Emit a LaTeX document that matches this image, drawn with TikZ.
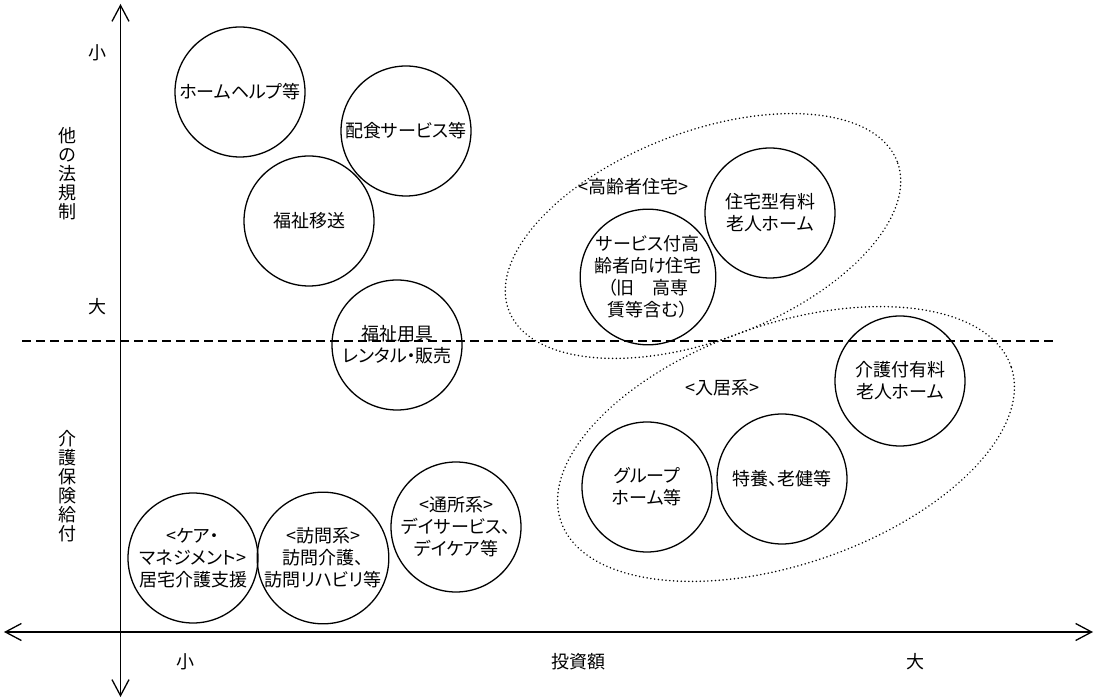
\documentclass[tikz,border=0pt]{standalone}
\usepackage{fontspec}
\setmainfont{Noto Sans CJK JP}[RawFeature=+palt]
\usetikzlibrary{arrows.meta,shapes.geometric}
\tikzset{
  bubble/.style={circle,draw,line width=1.3pt,minimum size=130pt,inner sep=0pt,align=center,
    font=\fontsize{18pt}{22pt}\selectfont},
  lbl/.style={inner sep=0pt,align=center,font=\fontsize{18pt}{22pt}\selectfont},
  vlbl/.style={inner sep=0pt,align=center,font=\fontsize{18pt}{19pt}\selectfont},
  axisline/.style={line width=1.3pt,
    arrows={Straight Barb[length=16pt,width=17pt]-Straight Barb[length=16pt,width=17pt]}},
  divline/.style={line width=1.3pt,dash pattern=on 9pt off 5pt},
  grp/.style={ellipse,draw,line width=1.7pt,dash pattern=on 0.01pt off 3.8pt,line cap=round,inner sep=0pt}
}
\begin{document}
\begin{tikzpicture}[x=1pt,y=-1pt]
\useasboundingbox (0,0) rectangle (1096,700);
% group ellipses
\node[grp,minimum width=416pt,minimum height=208pt,rotate=21] (g1) at (703,236) {};
\node[grp,minimum width=476pt,minimum height=240pt,rotate=19] (g2) at (786,444) {};
% circles
\node[bubble] (c1) at (240,92) {ホームヘルプ等};
\node[bubble] (c2) at (406,131) {配食サービス等};
\node[bubble] (c3) at (309,221) {福祉移送};
\node[bubble] (c4) at (397,345) {福祉用具\\レンタル・販売};
\node[bubble] (c5) at (648,277) {サービス付高\\齢者向け住宅\\（旧　高専\\賃等含む）};
\node[bubble] (c6) at (770,213) {住宅型有料\\老人ホーム};
\node[bubble] (c7) at (900,381) {介護付有料\\老人ホーム};
\node[bubble] (c8) at (647,487) {グループ\\ホーム等};
\node[bubble] (c9) at (782,479) {特養、老健等};
\node[bubble] (c10) at (193,558) {<ケア・\\マネジメント>\\居宅介護支援};
\node[bubble] (c11) at (323,558) {<訪問系>\\訪問介護、\\訪問リハビリ等};
\node[bubble] (c12) at (456,527) {<通所系>\\デイサービス、\\デイケア等};
% group labels
\node[lbl] (t1) at (633,187) {<高齢者住宅>};
\node[lbl] (t2) at (722,388) {<入居系>};
% axes
\coordinate (yt) at (120.5,4);
\coordinate (yb) at (120.5,697);
\coordinate (xl) at (4,632);
\coordinate (xr) at (1093,632);
\draw[axisline] (yb) -- (yt);
\draw[axisline] (xl) -- (xr);
% divider
\coordinate (dl) at (22,341);
\coordinate (dr) at (1055,341);
\draw[divline] (dl) -- (dr);
% axis labels
\node[lbl] (ys) at (97,53) {小};
\node[lbl] (yl) at (97,307) {大};
\node[vlbl] (v1) at (67,174) {他\\の\\法\\規\\制};
\node[vlbl] (v2) at (67,486) {介\\護\\保\\険\\給\\付};
\node[lbl] (xs) at (185,662) {小};
\node[lbl] (xm) at (578,662) {投資額};
\node[lbl] (xg) at (915,662) {大};
\end{tikzpicture}
\end{document}
